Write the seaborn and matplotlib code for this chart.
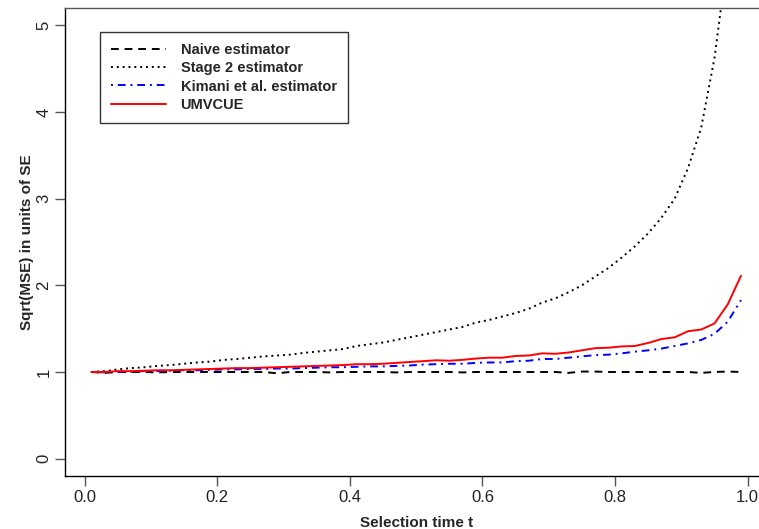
import numpy as np
import pandas as pd
import matplotlib
matplotlib.use("Agg")
import matplotlib.pyplot as plt
import seaborn as sns

t = [0.01, 0.03, 0.05, 0.07, 0.09, 0.11, 0.13, 0.15, 0.17, 0.19,
     0.21, 0.23, 0.25, 0.27, 0.29, 0.31, 0.33, 0.35, 0.37, 0.39,
     0.41, 0.43, 0.45, 0.47, 0.49, 0.51, 0.53, 0.55, 0.57, 0.59,
     0.61, 0.63, 0.65, 0.67, 0.69, 0.71, 0.73, 0.75, 0.77, 0.79,
     0.81, 0.83, 0.85, 0.87, 0.89, 0.91, 0.93, 0.95, 0.97, 0.99]

naive = [1.00, 0.99, 1.00, 1.00, 1.00, 0.995, 1.00, 1.00, 1.00, 1.00,
         1.00, 1.00, 1.00, 1.00, 0.985, 1.00, 1.00, 1.00, 0.995, 1.00,
         1.00, 1.00, 1.00, 0.995, 1.00, 1.00, 1.00, 1.00, 0.995, 1.00,
         1.00, 1.00, 1.00, 1.00, 1.00, 1.00, 0.99, 1.005, 1.005, 1.00,
         1.00, 1.00, 1.00, 1.00, 1.00, 1.00, 0.99, 1.00, 1.005, 1.00]

stage2 = [1.00, 1.01, 1.03, 1.045, 1.055, 1.07, 1.08, 1.095, 1.11, 1.12,
          1.14, 1.15, 1.165, 1.18, 1.19, 1.20, 1.22, 1.235, 1.25, 1.265,
          1.30, 1.32, 1.34, 1.37, 1.40, 1.43, 1.46, 1.49, 1.52, 1.57,
          1.60, 1.64, 1.68, 1.73, 1.80, 1.85, 1.92, 2.00, 2.10, 2.20,
          2.32, 2.45, 2.60, 2.78, 3.00, 3.35, 3.82, 4.62, 5.80, 8.00]

kimani = [1.00, 0.995, 1.00, 1.005, 1.01, 1.01, 1.015, 1.02, 1.02, 1.025,
          1.03, 1.03, 1.035, 1.035, 1.04, 1.04, 1.045, 1.05, 1.055, 1.055,
          1.06, 1.065, 1.065, 1.07, 1.075, 1.085, 1.09, 1.095, 1.095, 1.105,
          1.11, 1.11, 1.125, 1.13, 1.15, 1.15, 1.165, 1.18, 1.195, 1.20,
          1.215, 1.235, 1.25, 1.27, 1.30, 1.33, 1.37, 1.44, 1.58, 1.83]

umvcue = [1.00, 1.00, 1.01, 1.01, 1.015, 1.02, 1.02, 1.025, 1.03, 1.035,
          1.04, 1.045, 1.045, 1.05, 1.055, 1.06, 1.065, 1.07, 1.075, 1.08,
          1.09, 1.09, 1.095, 1.105, 1.115, 1.125, 1.135, 1.13, 1.14, 1.155,
          1.165, 1.165, 1.185, 1.19, 1.215, 1.21, 1.225, 1.25, 1.275, 1.28,
          1.295, 1.30, 1.335, 1.38, 1.40, 1.47, 1.49, 1.56, 1.78, 2.11]

labels = ["Naive estimator", "Stage 2 estimator", "Kimani et al. estimator", "UMVCUE"]
xticks = [0.0, 0.2, 0.4, 0.6, 0.8, 1.0]
yticks = [0, 1, 2, 3, 4, 5]

sns.set_theme(style="white")
plt.rcParams['font.family'] = ['Liberation Sans', 'DejaVu Sans']

fig = plt.figure(figsize=(7.59, 5.29), dpi=100)
ax = fig.add_axes([0.086, 0.1002, 0.9245, 0.8847])

series = [naive, stage2, kimani, umvcue]
colors = ["black", "black", "blue", "red"]
styles = [(0, (4, 3)), (0, (1, 2.0)), (0, (1, 2.5, 4, 2.5)), "-"]
for vals, lab, col, ls in zip(series, labels, colors, styles):
    sns.lineplot(x=t, y=vals, ax=ax, color=col, linestyle=ls, linewidth=1.4, label=lab)

ax.set_xlim(-0.0292, 1.0292)
ax.set_ylim(-0.2, 5.2)
ax.set_xticks(xticks)
ax.set_xticklabels([f"{v:.1f}" for v in xticks])
ax.set_yticks(yticks)
ax.set_yticklabels([str(v) for v in yticks], rotation=90, va="center")
ax.tick_params(axis="both", direction="out", length=7, width=1, color="#555555",
               labelsize=12, pad=3, left=True, bottom=True, labelcolor="#222222")
for s in ax.spines.values():
    s.set_color("black")
    s.set_linewidth(1.0)
ax.spines["top"].set_color("#555555")

ax.set_xlabel("Selection time t", fontsize=11, fontweight="bold", labelpad=8)
ax.set_ylabel("Sqrt(MSE) in units of SE", fontsize=11, fontweight="bold", labelpad=2)

leg = ax.legend(loc="upper left", bbox_to_anchor=(0.049, 0.949), borderaxespad=0,
                frameon=True, fancybox=False, edgecolor="black", handlelength=3.8,
                handletextpad=1.0, borderpad=0.75, labelspacing=0.3,
                prop={"weight": "bold", "size": 10.5})
leg.get_frame().set_linewidth(1.0)

fig.savefig("out.png", dpi=100)
